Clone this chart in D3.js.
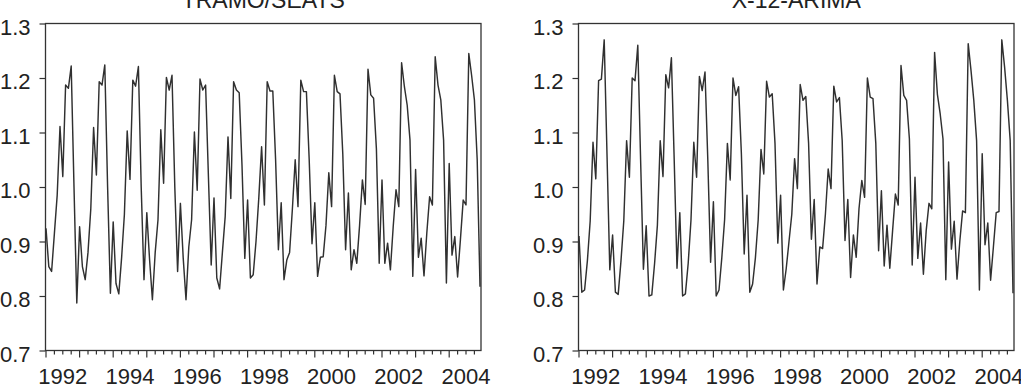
<!DOCTYPE html>
<html lang="en">
<head>
    <meta charset="UTF-8">
    <title>Seasonal factors: TRAMO/SEATS vs X-12-ARIMA</title>
    <script src="https://d3js.org/d3.v7.min.js"></script>
    <style>
        body { margin: 0; background: #fff; }
        svg text { font-family: "Liberation Sans", Arial, sans-serif; fill: #222; }
        .frame { fill: none; stroke: #333; stroke-width: 1.3px; }
        .series { fill: none; stroke: #303030; stroke-width: 1.45px; stroke-linejoin: round; }
        .tick line { stroke: #333; stroke-width: 1.2px; }
    </style>
</head>
<body>
    <svg id="chart" width="1021" height="388"></svg>

    <script>
        // monthly seasonal factors, Jan 1992 .. Dec 2004 (one row per year)
        const tramoSeats = [
            0.924, 0.854, 0.845, 0.915, 0.985, 1.111, 1.019, 1.187, 1.181, 1.222, 1.000, 0.787,
            0.927, 0.854, 0.830, 0.880, 0.960, 1.109, 1.022, 1.193, 1.187, 1.224, 1.000, 0.805,
            0.936, 0.823, 0.804, 0.870, 0.950, 1.103, 1.014, 1.196, 1.185, 1.221, 1.000, 0.830,
            0.953, 0.866, 0.793, 0.880, 0.940, 1.105, 1.007, 1.201, 1.178, 1.205, 1.000, 0.845,
            0.970, 0.870, 0.793, 0.890, 0.940, 1.101, 0.994, 1.198, 1.178, 1.187, 1.020, 0.857,
            0.980, 0.833, 0.813, 0.880, 0.946, 1.092, 0.979, 1.193, 1.178, 1.173, 1.040, 0.869,
            0.976, 0.833, 0.839, 0.900, 0.980, 1.074, 0.967, 1.193, 1.176, 1.176, 1.050, 0.885,
            0.971, 0.830, 0.866, 0.880, 0.960, 1.050, 0.964, 1.196, 1.175, 1.175, 1.050, 0.896,
            0.971, 0.836, 0.871, 0.872, 0.930, 1.026, 0.964, 1.205, 1.175, 1.171, 1.060, 0.885,
            0.989, 0.848, 0.885, 0.860, 0.930, 1.013, 0.968, 1.216, 1.169, 1.163, 1.070, 0.860,
            1.013, 0.860, 0.897, 0.848, 0.927, 0.995, 0.964, 1.228, 1.184, 1.150, 1.086, 0.836,
            1.032, 0.871, 0.906, 0.837, 0.915, 0.982, 0.967, 1.239, 1.187, 1.160, 1.086, 0.824,
            1.043, 0.875, 0.909, 0.835, 0.903, 0.976, 0.967, 1.245, 1.205, 1.160, 1.050, 0.817
        ];

        const x12Arima = [
            0.910, 0.807, 0.811, 0.865, 0.938, 1.082, 1.015, 1.195, 1.198, 1.270, 1.060, 0.848,
            0.912, 0.807, 0.803, 0.865, 0.938, 1.085, 1.018, 1.200, 1.195, 1.260, 1.050, 0.849,
            0.929, 0.800, 0.802, 0.860, 0.930, 1.085, 1.019, 1.206, 1.182, 1.237, 1.050, 0.851,
            0.953, 0.800, 0.804, 0.860, 0.940, 1.082, 1.018, 1.203, 1.177, 1.211, 1.050, 0.862,
            0.973, 0.800, 0.811, 0.870, 0.940, 1.080, 1.013, 1.200, 1.168, 1.184, 1.060, 0.877,
            0.985, 0.807, 0.822, 0.870, 0.940, 1.069, 1.024, 1.194, 1.165, 1.171, 1.080, 0.897,
            0.985, 0.811, 0.850, 0.900, 0.950, 1.052, 0.997, 1.188, 1.159, 1.166, 1.080, 0.904,
            0.977, 0.822, 0.890, 0.887, 0.950, 1.033, 0.997, 1.185, 1.156, 1.164, 1.085, 0.902,
            0.977, 0.834, 0.912, 0.871, 0.960, 1.012, 0.981, 1.200, 1.165, 1.162, 1.080, 0.883,
            0.993, 0.855, 0.930, 0.851, 0.920, 0.987, 0.967, 1.223, 1.168, 1.159, 1.088, 0.857,
            1.018, 0.869, 0.934, 0.840, 0.920, 0.970, 0.960, 1.247, 1.170, 1.134, 1.088, 0.830,
            1.046, 0.886, 0.937, 0.831, 0.900, 0.956, 0.953, 1.263, 1.214, 1.159, 1.085, 0.811,
            1.061, 0.894, 0.934, 0.829, 0.890, 0.953, 0.955, 1.270, 1.220, 1.159, 1.085, 0.805
        ];

        const startYear = 1992;
        const yTicks = [0.7, 0.8, 0.9, 1.0, 1.1, 1.2, 1.3];
        const yearLabels = [1992, 1994, 1996, 1998, 2000, 2002, 2004];

        const panels = [
            { title: "TRAMO/SEATS", values: tramoSeats, left: 45.5, right: 481 },
            { title: "X-12-ARIMA", values: x12Arima, left: 578.5, right: 1014 }
        ];

        const plotTop = 23.5, plotBottom = 350.5;
        const svg = d3.select("#chart");

        const y = d3.scaleLinear().domain([0.7, 1.3]).range([plotBottom, plotTop]);

        panels.forEach(p => {
            const n = p.values.length;
            const endYear = startYear + (n - 1) / 12;
            const x = d3.scaleLinear()
                .domain([startYear, endYear])
                .range([p.left + 0.5, p.right - 1]);

            const g = svg.append("g");

            // quarterly minor ticks and yearly major ticks
            const quarters = d3.range(0, Math.floor((endYear - startYear) * 4) + 1)
                .map(q => startYear + q / 4);
            g.append("g").selectAll("line")
                .data(quarters)
                .join("line")
                .attr("x1", d => x(d)).attr("x2", d => x(d))
                .attr("y1", plotBottom)
                .attr("y2", d => plotBottom + (Number.isInteger(d) ? 7 : 4))
                .attr("stroke", "#333")
                .attr("stroke-width", 1.2);

            g.append("g").selectAll("text")
                .data(yearLabels)
                .join("text")
                .attr("x", d => x(d + 0.5))
                .attr("y", 384)
                .attr("text-anchor", "middle")
                .style("font-size", "22px")
                .text(d => d);

            // y axis
            const yAxis = d3.axisLeft(y)
                .tickValues(yTicks)
                .tickSize(6)
                .tickPadding(9)
                .tickFormat(d3.format(".1f"));
            const ya = g.append("g")
                .attr("transform", `translate(${p.left},0)`)
                .call(yAxis);
            ya.select(".domain").remove();
            ya.selectAll("text")
                .attr("dy", "10.5px")
                .style("font-size", "22px");

            // frame
            g.append("rect")
                .attr("class", "frame")
                .attr("x", p.left)
                .attr("y", plotTop)
                .attr("width", p.right - p.left)
                .attr("height", plotBottom - plotTop);

            const line = d3.line()
                .x((d, i) => x(startYear + i / 12))
                .y(d => y(d));

            g.append("path")
                .datum(p.values)
                .attr("class", "series")
                .attr("d", line);

            g.append("text")
                .attr("x", (p.left + p.right) / 2)
                .attr("y", 8)
                .attr("text-anchor", "middle")
                .style("font-size", "23px")
                .text(p.title);
        });
    </script>
</body>
</html>
